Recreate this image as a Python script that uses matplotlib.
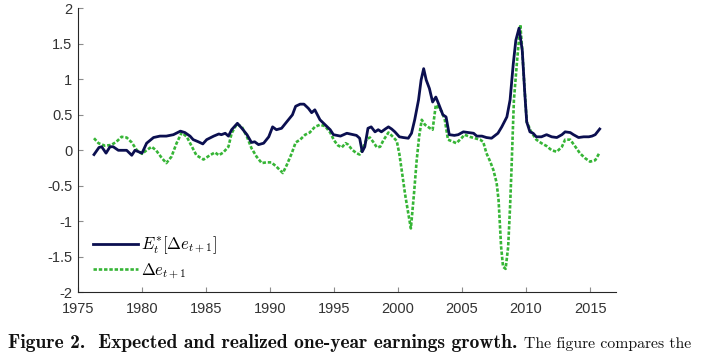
import matplotlib
matplotlib.use("Agg")
import matplotlib.pyplot as plt
from matplotlib.ticker import FuncFormatter

# ---------------- data ----------------
expected_years = [1976.25, 1976.64, 1976.85, 1977.19, 1977.5, 1977.75, 1978.15, 1978.8, 1979.2, 1979.45,
                  1980.0, 1980.36, 1980.9, 1981.4, 1981.9, 1982.45, 1983.0, 1983.35, 1983.75, 1984.0,
                  1984.4, 1984.75, 1985.05, 1985.6, 1986.0, 1986.2, 1986.5, 1986.75, 1987.0, 1987.45,
                  1987.8, 1988.2, 1988.55, 1988.8, 1989.1, 1989.5, 1989.9, 1990.2, 1990.5, 1990.9,
                  1991.3, 1991.75, 1992.0, 1992.35, 1992.65, 1993.0, 1993.25, 1993.5, 1993.9, 1994.3,
                  1994.7, 1994.95, 1995.5, 1996.0, 1996.5, 1996.75, 1997.0, 1997.2, 1997.4, 1997.65,
                  1997.9, 1998.2, 1998.45, 1998.7, 1999.0, 1999.25, 1999.5, 1999.75, 2000.1, 2000.4,
                  2000.8, 2001.05, 2001.3, 2001.6, 2001.8, 2002.0, 2002.2, 2002.45, 2002.7, 2002.95,
                  2003.2, 2003.5, 2003.75, 2004.0, 2004.4, 2004.7, 2005.1, 2005.5, 2005.9, 2006.15,
                  2006.55, 2006.9, 2007.3, 2007.8, 2008.1, 2008.5, 2008.75, 2009.0, 2009.2, 2009.45,
                  2009.7, 2009.9, 2010.05, 2010.3, 2010.55, 2010.8, 2011.2, 2011.6, 2012.0, 2012.4,
                  2012.8, 2013.05, 2013.45, 2013.7, 2014.1, 2014.5, 2014.9, 2015.15, 2015.4, 2015.75]
expected_values = [-0.06, 0.04, 0.05, -0.04, 0.05, 0.05, 0.0, 0.0, -0.07, 0.0,
                   -0.04, 0.10, 0.18, 0.20, 0.20, 0.22, 0.27, 0.25, 0.20, 0.15,
                   0.12, 0.09, 0.15, 0.20, 0.23, 0.22, 0.24, 0.20, 0.29, 0.38,
                   0.31, 0.22, 0.11, 0.12, 0.08, 0.10, 0.19, 0.33, 0.29, 0.31,
                   0.40, 0.50, 0.62, 0.65, 0.65, 0.59, 0.53, 0.57, 0.43, 0.36,
                   0.29, 0.22, 0.20, 0.24, 0.22, 0.21, 0.17, -0.02, 0.05, 0.31,
                   0.33, 0.26, 0.29, 0.26, 0.30, 0.33, 0.30, 0.26, 0.19, 0.18,
                   0.17, 0.24, 0.43, 0.71, 0.99, 1.15, 0.99, 0.87, 0.68, 0.75,
                   0.64, 0.50, 0.47, 0.22, 0.21, 0.22, 0.26, 0.25, 0.24, 0.20,
                   0.20, 0.18, 0.17, 0.24, 0.33, 0.47, 0.71, 1.22, 1.55, 1.72,
                   1.41, 0.80, 0.40, 0.26, 0.24, 0.19, 0.19, 0.22, 0.19, 0.18,
                   0.22, 0.26, 0.25, 0.22, 0.18, 0.19, 0.19, 0.20, 0.22, 0.30]

realized_years = [1976.25, 1976.6, 1977.1, 1977.6, 1978.0, 1978.4, 1978.8, 1979.2, 1979.6, 1980.0,
                  1980.35, 1980.75, 1981.1, 1981.55, 1981.9, 1982.3, 1982.7, 1983.1, 1983.5, 1983.9,
                  1984.25, 1984.8, 1985.3, 1985.7, 1986.0, 1986.35, 1986.75, 1987.0, 1987.4, 1987.8,
                  1988.2, 1988.55, 1988.95, 1989.35, 1989.7, 1990.1, 1990.5, 1991.0, 1991.3, 1991.7,
                  1992.0, 1992.35, 1992.75, 1993.1, 1993.5, 1993.9, 1994.3, 1994.7, 1995.0, 1995.3,
                  1995.6, 1995.9, 1996.1, 1996.4, 1996.75, 1997.0, 1997.3, 1997.55, 1997.8, 1998.05,
                  1998.35, 1998.6, 1998.85, 1999.25, 1999.6, 1999.9, 2000.1, 2000.3, 2000.55, 2000.8,
                  2001.0, 2001.25, 2001.45, 2001.65, 2001.85, 2002.1, 2002.5, 2002.7, 2002.95, 2003.1,
                  2003.4, 2003.65, 2003.9, 2004.3, 2004.55, 2004.95, 2005.2, 2005.6, 2006.0, 2006.4,
                  2006.65, 2006.9, 2007.2, 2007.45, 2007.7, 2007.85, 2007.95, 2008.05, 2008.2, 2008.4,
                  2008.6, 2008.75, 2008.85, 2008.95, 2009.05, 2009.3, 2009.55, 2009.7, 2009.87, 2010.05,
                  2010.4, 2010.8, 2011.2, 2011.6, 2012.0, 2012.4, 2012.8, 2013.05, 2013.45, 2013.85,
                  2014.2, 2014.6, 2015.0, 2015.4, 2015.75]
realized_values = [0.17, 0.10, 0.065, 0.075, 0.12, 0.19, 0.18, 0.11, 0.0, -0.05,
                   0.0, 0.05, 0.0, -0.11, -0.18, -0.09, 0.10, 0.25, 0.19, 0.05,
                   -0.07, -0.13, -0.07, -0.03, -0.07, -0.03, 0.05, 0.24, 0.37, 0.33,
                   0.19, 0.03, -0.09, -0.18, -0.17, -0.17, -0.23, -0.32, -0.21, -0.04,
                   0.11, 0.15, 0.22, 0.25, 0.33, 0.36, 0.34, 0.25, 0.14, 0.07,
                   0.04, 0.10, 0.08, 0.01, -0.04, -0.06, 0.05, 0.16, 0.18, 0.12,
                   0.04, 0.05, 0.14, 0.25, 0.19, 0.13, -0.05, -0.30, -0.62, -0.89,
                   -1.10, -0.60, -0.15, 0.20, 0.43, 0.36, 0.31, 0.29, 0.64, 0.61,
                   0.55, 0.43, 0.15, 0.12, 0.10, 0.17, 0.22, 0.19, 0.17, 0.15,
                   0.12, -0.04, -0.16, -0.28, -0.46, -0.70, -1.03, -1.36, -1.64, -1.67,
                   -1.36, -0.79, -0.32, 0.20, 0.71, 1.27, 1.77, 1.41, 0.90, 0.40,
                   0.26, 0.15, 0.10, 0.06, 0.0, -0.02, 0.05, 0.15, 0.15, 0.05,
                   -0.04, -0.11, -0.16, -0.14, -0.03]

x_ticks = [1975, 1980, 1985, 1990, 1995, 2000, 2005, 2010, 2015]
y_ticks = [-2, -1.5, -1, -0.5, 0, 0.5, 1, 1.5, 2]
label_expected = r"$E_t^{*}[\Delta e_{t+1}]$"
label_realized = r"$\Delta e_{t+1}$"
caption_bold = "Figure 2.  Expected and realized one-year earnings growth."
caption_rest = "The figure compares the"

# ---------------- plot ----------------
plt.rcParams['mathtext.fontset'] = 'cm'
plt.rcParams['axes.unicode_minus'] = False

W, H = 709, 355
fig = plt.figure(figsize=(W / 100, H / 100), dpi=100)
ax = fig.add_axes([78 / W, 1 - 292.3 / H, (615.7 - 78) / W, (292.3 - 8.3) / H])

ax.plot(expected_years, expected_values, color='#0b0f50', lw=2.0, solid_joinstyle='round',
        label=label_expected, zorder=3)
ax.plot(realized_years, realized_values, color='#36b536', lw=1.9, linestyle=(0, (1.3, 0.7)),
        label=label_realized, zorder=2)

ax.set_xlim(1975, 2017)
ax.set_ylim(-2, 2)
ax.set_xticks(x_ticks)
ax.set_yticks(y_ticks)
ax.yaxis.set_major_formatter(FuncFormatter(lambda v, p: ('%g' % v)))

for s in ['top', 'right']:
    ax.spines[s].set_visible(False)
for s in ['left', 'bottom']:
    ax.spines[s].set_color('#262626')
    ax.spines[s].set_linewidth(0.8)

ax.tick_params(direction='in', length=3.5, width=0.8, color='#8c8c8c',
               labelcolor='#333333', labelsize=10.5)
ax.tick_params(axis='x', pad=7)
ax.tick_params(axis='y', pad=4)
for lab in ax.get_xticklabels() + ax.get_yticklabels():
    lab.set_family(['Liberation Sans', 'DejaVu Sans'])

leg = ax.legend(loc='center left', bbox_to_anchor=(0.028, 0.121), frameon=False,
                fontsize=12, handlelength=2.7, handletextpad=0.2, labelspacing=0.3,
                borderaxespad=0, borderpad=0)

base_y = 1 - 348 / H
t1 = fig.text(8 / W, base_y, caption_bold, family=['cmb10', 'DejaVu Serif'],
              fontsize=14.1, va='baseline', ha='left', color='#111111')
fig.canvas.draw()
bb = t1.get_window_extent(renderer=fig.canvas.get_renderer())
fig.text((bb.x1 + 7) / W, base_y, caption_rest, family=['cmr10', 'DejaVu Serif'],
         fontsize=11.3, va='baseline', ha='left', color='#111111')

fig.savefig('out.png', dpi=100)
